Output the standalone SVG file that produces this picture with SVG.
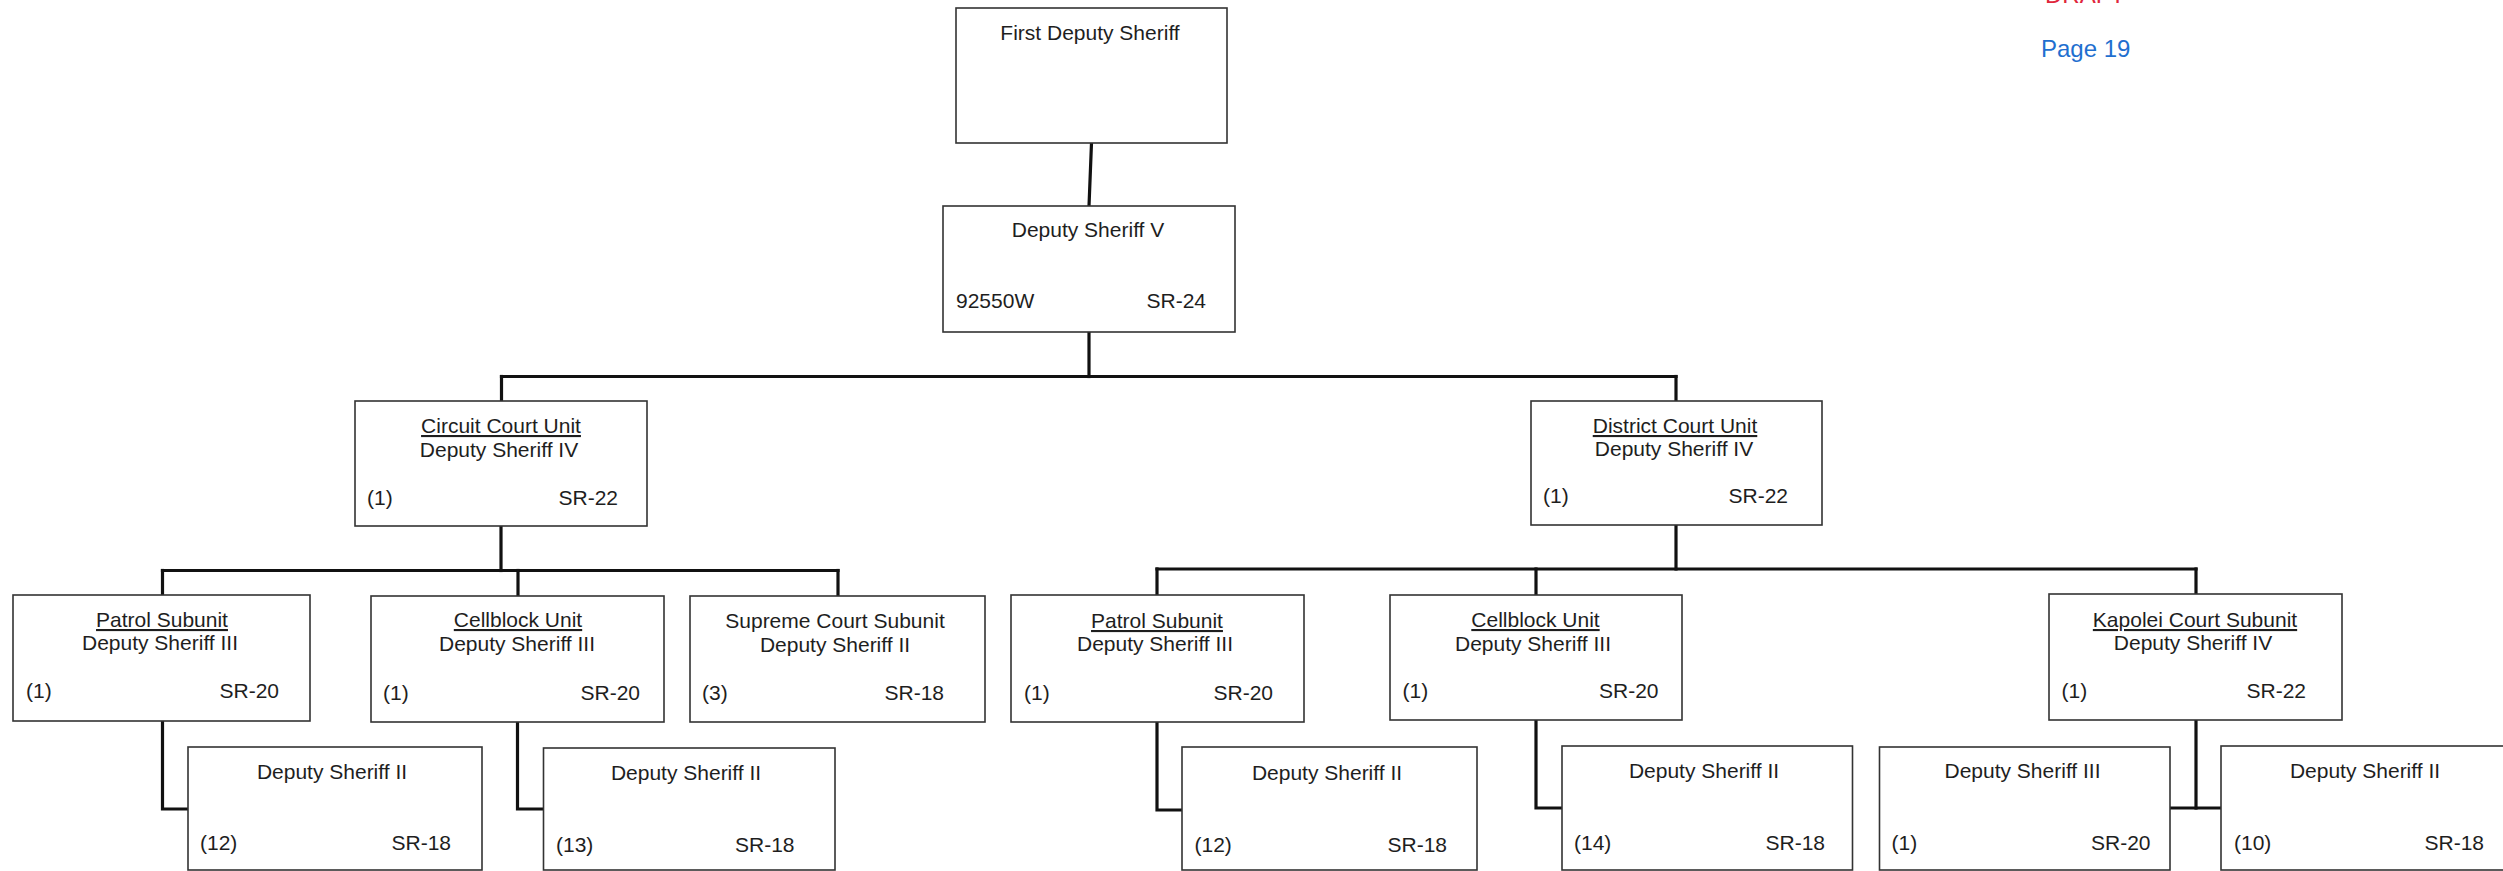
<svg xmlns="http://www.w3.org/2000/svg" width="2503" height="871" viewBox="0 0 2503 871">
<style>
  .box{fill:#fff;stroke:#333;stroke-width:1.6}
  .t{font-family:"Liberation Sans",Arial,sans-serif;font-size:21px;fill:#1e1e1e}
  .c{text-anchor:middle}
  .e{text-anchor:end}
  .u{text-decoration:underline}
  .ln{fill:none;stroke:#111;stroke-width:3.2;stroke-linecap:square}
</style>
<rect width="2503" height="871" fill="#fff"/>
<text x="2045" y="3" style="font-family:'Liberation Sans',Arial,sans-serif;font-size:24px;fill:#e0263c">DRAFT</text>
<text x="2041" y="57" style="font-family:'Liberation Sans',Arial,sans-serif;font-size:24px;fill:#1f6fcf">Page 19</text>

<g id="connectors">
  <line class="ln" x1="1091.5" y1="143" x2="1089" y2="206"/>
  <line class="ln" x1="1089" y1="332" x2="1089" y2="376.5"/>
  <line class="ln" x1="501.5" y1="376.5" x2="1676" y2="376.5"/>
  <line class="ln" x1="501.5" y1="376.5" x2="501.5" y2="401"/>
  <line class="ln" x1="1676" y1="376.5" x2="1676" y2="401"/>
  <line class="ln" x1="501" y1="526" x2="501" y2="570.5"/>
  <line class="ln" x1="162.5" y1="570.5" x2="838" y2="570.5"/>
  <line class="ln" x1="162.5" y1="570.5" x2="162.5" y2="595"/>
  <line class="ln" x1="518" y1="570.5" x2="518" y2="596"/>
  <line class="ln" x1="838" y1="570.5" x2="838" y2="596"/>
  <line class="ln" x1="1676" y1="525" x2="1676" y2="569"/>
  <line class="ln" x1="1157" y1="569" x2="2196" y2="569"/>
  <line class="ln" x1="1157" y1="569" x2="1157" y2="595"/>
  <line class="ln" x1="1536" y1="569" x2="1536" y2="595"/>
  <line class="ln" x1="2196" y1="569" x2="2196" y2="594"/>
  <polyline class="ln" points="162.5,721 162.5,809 188,809"/>
  <polyline class="ln" points="517.5,722 517.5,809 543.5,809"/>
  <polyline class="ln" points="1157,722 1157,810 1182,810"/>
  <polyline class="ln" points="1536,720 1536,808 1562,808"/>
  <line class="ln" x1="2196" y1="720" x2="2196" y2="808"/>
  <line class="ln" x1="2170" y1="808" x2="2221" y2="808"/>
</g>

<g id="first-deputy-sheriff">
  <rect class="box" x="956" y="8" width="271" height="135"/>
  <text class="t c" x="1090" y="40">First Deputy Sheriff</text>
</g>
<g id="deputy-sheriff-v">
  <rect class="box" x="943" y="206" width="292" height="126"/>
  <text class="t c" x="1088" y="237">Deputy Sheriff V</text>
  <text class="t" x="956" y="308">92550W</text>
  <text class="t e" x="1206" y="308">SR-24</text>
</g>
<g id="circuit-court-unit">
  <rect class="box" x="355" y="401" width="292" height="125"/>
  <text class="t c u" x="501" y="433">Circuit Court Unit</text>
  <text class="t c" x="499" y="457">Deputy Sheriff IV</text>
  <text class="t" x="367" y="505">(1)</text>
  <text class="t e" x="618" y="505">SR-22</text>
</g>
<g id="district-court-unit">
  <rect class="box" x="1531" y="401" width="291" height="124"/>
  <text class="t c u" x="1675" y="433">District Court Unit</text>
  <text class="t c" x="1674" y="456">Deputy Sheriff IV</text>
  <text class="t" x="1543" y="503">(1)</text>
  <text class="t e" x="1788" y="503">SR-22</text>
</g>
<g id="patrol-subunit-circuit">
  <rect class="box" x="13" y="595" width="297" height="126"/>
  <text class="t c u" x="162" y="627">Patrol Subunit</text>
  <text class="t c" x="160" y="650">Deputy Sheriff III</text>
  <text class="t" x="26" y="698">(1)</text>
  <text class="t e" x="279" y="698">SR-20</text>
</g>
<g id="cellblock-unit-circuit">
  <rect class="box" x="371" y="596" width="293" height="126"/>
  <text class="t c u" x="518" y="627">Cellblock Unit</text>
  <text class="t c" x="517" y="651">Deputy Sheriff III</text>
  <text class="t" x="383" y="700">(1)</text>
  <text class="t e" x="640" y="700">SR-20</text>
</g>
<g id="supreme-court-subunit">
  <rect class="box" x="690" y="596" width="295" height="126"/>
  <text class="t c" x="835" y="628">Supreme Court Subunit</text>
  <text class="t c" x="835" y="652">Deputy Sheriff II</text>
  <text class="t" x="702" y="700">(3)</text>
  <text class="t e" x="944" y="700">SR-18</text>
</g>
<g id="patrol-subunit-district">
  <rect class="box" x="1011" y="595" width="293" height="127"/>
  <text class="t c u" x="1157" y="628">Patrol Subunit</text>
  <text class="t c" x="1155" y="651">Deputy Sheriff III</text>
  <text class="t" x="1024" y="700">(1)</text>
  <text class="t e" x="1273" y="700">SR-20</text>
</g>
<g id="cellblock-unit-district">
  <rect class="box" x="1390" y="595" width="292" height="125"/>
  <text class="t c u" x="1535.5" y="627">Cellblock Unit</text>
  <text class="t c" x="1533" y="651">Deputy Sheriff III</text>
  <text class="t" x="1402.5" y="698">(1)</text>
  <text class="t e" x="1658.5" y="698">SR-20</text>
</g>
<g id="kapolei-court-subunit">
  <rect class="box" x="2049" y="594" width="293" height="126"/>
  <text class="t c u" x="2195" y="627">Kapolei Court Subunit</text>
  <text class="t c" x="2193" y="650">Deputy Sheriff IV</text>
  <text class="t" x="2061.5" y="698">(1)</text>
  <text class="t e" x="2306" y="698">SR-22</text>
</g>
<g id="deputy-sheriff-ii-patrol-circuit">
  <rect class="box" x="188" y="747" width="294" height="123"/>
  <text class="t c" x="332" y="779">Deputy Sheriff II</text>
  <text class="t" x="200" y="850">(12)</text>
  <text class="t e" x="451" y="850">SR-18</text>
</g>
<g id="deputy-sheriff-ii-cellblock-circuit">
  <rect class="box" x="543.5" y="748" width="291.5" height="122"/>
  <text class="t c" x="686" y="780">Deputy Sheriff II</text>
  <text class="t" x="556" y="851.5">(13)</text>
  <text class="t e" x="794.5" y="851.5">SR-18</text>
</g>
<g id="deputy-sheriff-ii-patrol-district">
  <rect class="box" x="1182" y="747" width="295" height="123"/>
  <text class="t c" x="1327" y="780">Deputy Sheriff II</text>
  <text class="t" x="1194.5" y="851.5">(12)</text>
  <text class="t e" x="1447" y="851.5">SR-18</text>
</g>
<g id="deputy-sheriff-ii-cellblock-district">
  <rect class="box" x="1562" y="746" width="290.5" height="124"/>
  <text class="t c" x="1704" y="777.5">Deputy Sheriff II</text>
  <text class="t" x="1574" y="850">(14)</text>
  <text class="t e" x="1825" y="850">SR-18</text>
</g>
<g id="deputy-sheriff-iii-kapolei">
  <rect class="box" x="1879.5" y="747" width="290.5" height="123"/>
  <text class="t c" x="2022.5" y="778">Deputy Sheriff III</text>
  <text class="t" x="1891.5" y="850">(1)</text>
  <text class="t e" x="2150.5" y="850">SR-20</text>
</g>
<g id="deputy-sheriff-ii-kapolei">
  <rect class="box" x="2221" y="746" width="292" height="124"/>
  <text class="t c" x="2365" y="778">Deputy Sheriff II</text>
  <text class="t" x="2234" y="849.5">(10)</text>
  <text class="t e" x="2484" y="849.5">SR-18</text>
</g>
</svg>
